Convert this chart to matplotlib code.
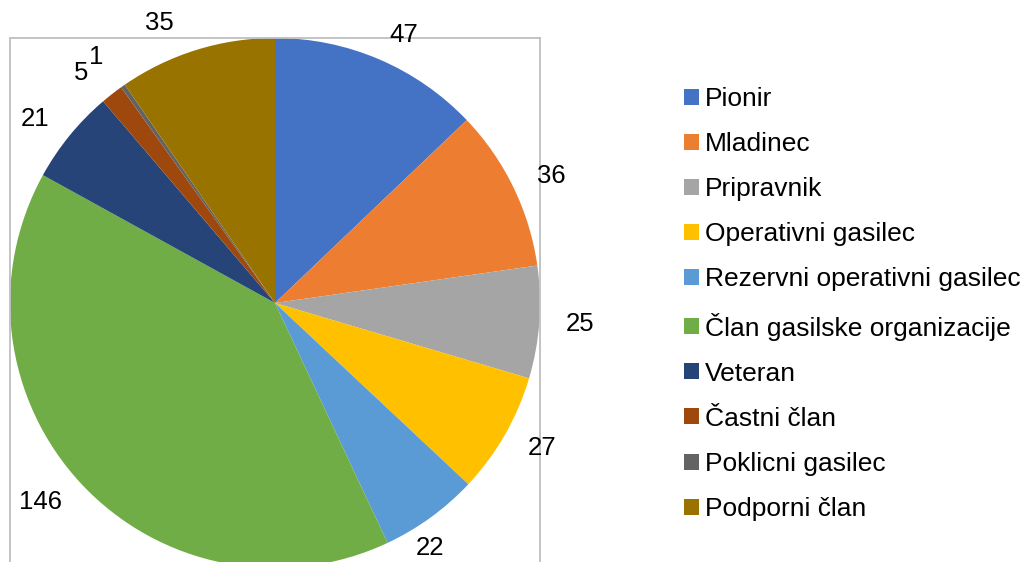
import matplotlib

matplotlib.use("Agg")
import matplotlib.pyplot as plt  # noqa: E402
from matplotlib.transforms import offset_copy  # noqa: E402

categories = [
    "Pionir",
    "Mladinec",
    "Pripravnik",
    "Operativni gasilec",
    "Rezervni operativni gasilec",
    "Član gasilske organizacije",
    "Veteran",
    "Častni član",
    "Poklicni gasilec",
    "Podporni član",
]
counts = [47, 36, 25, 27, 22, 146, 21, 5, 1, 35]
colors = [
    "#4472C4", "#ED7D31", "#A5A5A5", "#FFC000", "#5B9BD5",
    "#70AD47", "#264478", "#9E480E", "#636363", "#997300",
]

plt.rcParams["font.family"] = ["Liberation Sans", "DejaVu Sans"]

W, H = 1023, 562
fig = plt.figure(figsize=(W / 100, H / 100), dpi=100)
# plot area in pixels: x 10..540, top at 38, runs past the bottom edge
ax = fig.add_axes([10 / W, (H - 568) / H, 530 / W, 530 / H])

wedges, texts = ax.pie(
    counts,
    labels=[str(c) for c in counts],
    colors=colors,
    startangle=90,
    counterclock=False,
    labeldistance=1.1,
    radius=1.0,
    frame=True,
    textprops={"fontsize": 18.5, "color": "#000000"},
    wedgeprops={"linewidth": 0},
)
ax.set_xlim(-1, 1)
ax.set_ylim(-1, 1)
ax.set_aspect("equal")
ax.set_xticks([])
ax.set_yticks([])
for spine in ax.spines.values():
    spine.set_color("#BFBFBF")
    spine.set_linewidth(1.3)

# small nudges so the data labels sit where the original placed them (pixels)
nudges = {4: (-31, -9), 7: (-7, 0), 8: (-4, 7), 9: (-15, 2)}
for idx, (dx, dy) in nudges.items():
    texts[idx].set_transform(offset_copy(ax.transData, fig=fig, x=dx, y=dy, units="dots"))

fig.legend(
    wedges,
    categories,
    loc="upper left",
    bbox_to_anchor=(684 / W, 1 - 87 / H),
    frameon=False,
    fontsize=19,
    handlelength=0.55,
    handleheight=0.55,
    handletextpad=0.25,
    labelspacing=0.8,
    borderpad=0,
    borderaxespad=0,
)

fig.savefig("out.png", dpi=100)
